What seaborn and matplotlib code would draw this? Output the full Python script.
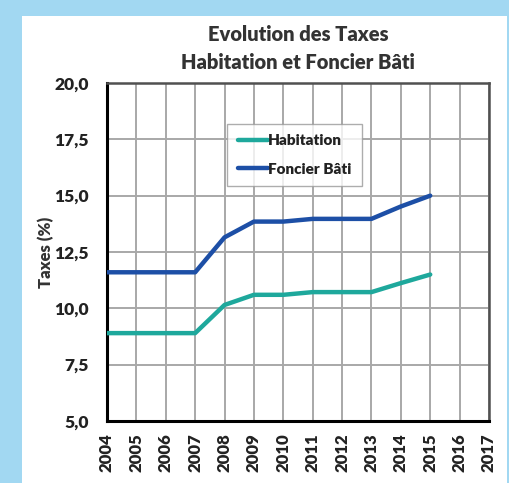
import pandas as pd
import seaborn as sns
import matplotlib.pyplot as plt
from matplotlib.patches import Rectangle

# --- DATA ---
years = list(range(2004, 2016))
habitation = [8.9, 8.9, 8.9, 8.9, 10.15, 10.6, 10.6, 10.72, 10.72, 10.72, 11.12, 11.5]
foncier_bati = [11.6, 11.6, 11.6, 11.6, 13.15, 13.85, 13.85, 13.97, 13.97, 13.97, 14.52, 15.0]
year_ticks = list(range(2004, 2018))
y_ticks = [5.0, 7.5, 10.0, 12.5, 15.0, 17.5, 20.0]

df = pd.DataFrame({
    "Année": years * 2,
    "Taxes": habitation + foncier_bati,
    "Serie": ["Habitation"] * len(years) + ["Foncier Bâti"] * len(years),
})

sns.set_style("white")
plt.rcParams["font.family"] = ["Lato", "DejaVu Sans"]
plt.rcParams["font.weight"] = "heavy"
W = "heavy"

fig = plt.figure(figsize=(5.09, 4.83), dpi=100)
fig.patch.set_facecolor("#a2d8f2")
# white panel behind the chart
fig.patches.append(Rectangle((22 / 509, 0), 485 / 509, 467 / 483,
                             transform=fig.transFigure, facecolor="white",
                             edgecolor="none", zorder=-5))

ax = fig.add_axes([107 / 509, 62 / 483, 382 / 509, 338 / 483])
ax.set_facecolor("white")

sns.lineplot(data=df, x="Année", y="Taxes", hue="Serie", ax=ax,
             palette={"Habitation": "#1ea89c", "Foncier Bâti": "#1d4fa6"},
             linewidth=3.2, zorder=3)

ax.set_xlim(2004, 2017)
ax.set_ylim(5, 20)
ax.set_xticks(year_ticks)
ax.set_xticklabels([str(y) for y in year_ticks], rotation=90, fontsize=12, fontweight=W,
                   color="#222222")
ax.set_yticks(y_ticks)
ax.set_yticklabels([f"{v:.1f}".replace(".", ",") for v in y_ticks], fontsize=12.5,
                   fontweight=W, color="#222222")
ax.grid(True, color="#a8a8a8", linewidth=1.4, zorder=0)
ax.set_axisbelow(True)

for side in ["left", "bottom"]:
    ax.spines[side].set_color("black")
    ax.spines[side].set_linewidth(2.2)
for side in ["top", "right"]:
    ax.spines[side].set_color("#505050")
    ax.spines[side].set_linewidth(1.8)

ax.tick_params(axis="y", direction="out", length=5, width=2, color="black", pad=8)
ax.tick_params(axis="x", direction="out", length=4, width=2, color="black", pad=5)

ax.set_xlabel("")
ax.set_ylabel("Taxes (%)", fontsize=12, fontweight=W, color="#333333", labelpad=0)
ax.set_title("Evolution des Taxes\nHabitation et Foncier Bâti", fontsize=14.5,
             fontweight=W, color="#333333", pad=10, linespacing=1.6)

leg = ax.legend(loc="upper left", bbox_to_anchor=(0.314, 0.88), fontsize=11,
                frameon=True, fancybox=False, edgecolor="#999999",
                handlelength=2.0, handletextpad=0.0, labelspacing=1.0,
                borderpad=0.7, borderaxespad=0)
for t in leg.get_texts():
    t.set_fontweight(W)
    t.set_color("#222222")
leg.get_frame().set_linewidth(1)

plt.savefig("out.png", dpi=100, facecolor=fig.get_facecolor())
